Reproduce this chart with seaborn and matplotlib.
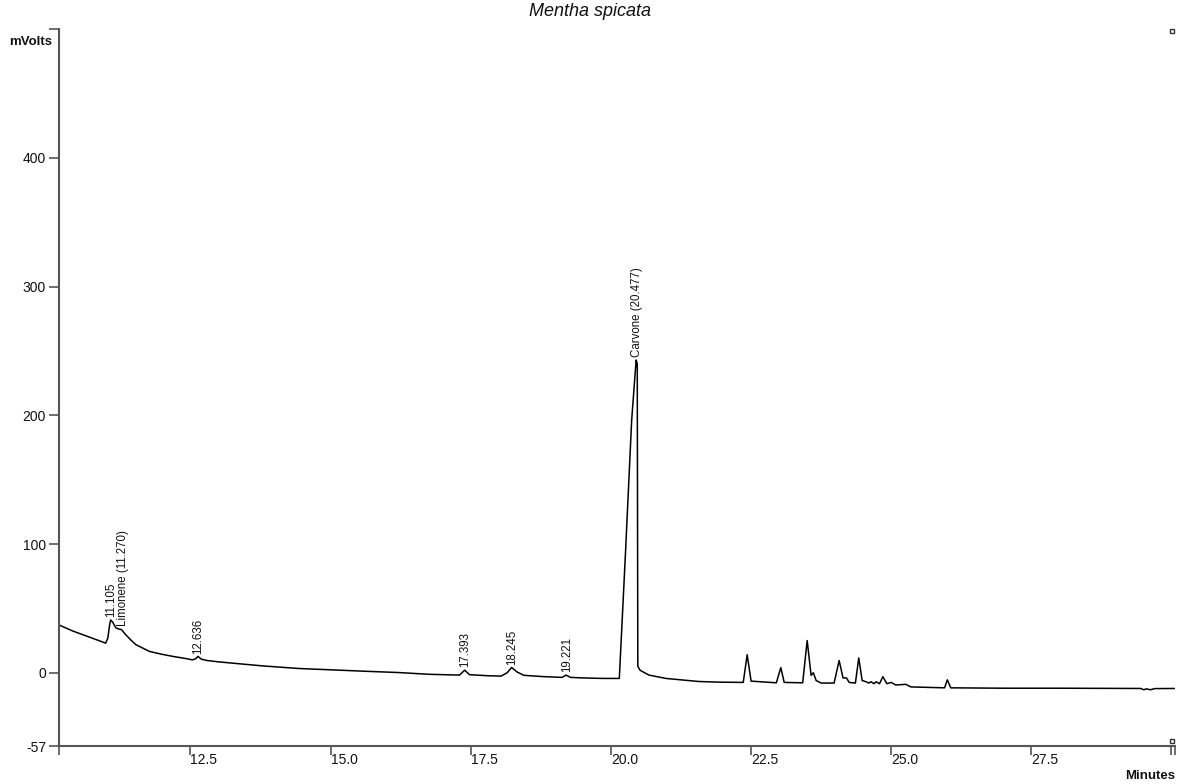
import matplotlib
matplotlib.use("Agg")
import matplotlib.pyplot as plt
import seaborn as sns
import pandas as pd

# ---- data ----
time_min = [10.15, 10.40, 10.65, 10.90, 10.99, 11.03, 11.06, 11.08, 11.12, 11.17, 11.22, 11.27,
            11.35, 11.45, 11.53, 11.77, 12.00, 12.19, 12.40, 12.54, 12.60, 12.636, 12.70, 12.80,
            13.00, 13.37, 13.80, 14.44, 15.00, 15.60, 16.20, 16.76, 17.30, 17.393, 17.48, 17.80,
            18.04, 18.15, 18.23, 18.33, 18.45, 18.80, 19.13, 19.20, 19.28, 19.50, 19.85, 20.15,
            20.26, 20.37, 20.45, 20.47, 20.48, 20.52, 20.60, 20.68, 20.98, 21.57, 21.94, 22.36,
            22.43, 22.50, 22.95, 23.03, 23.09, 23.42, 23.50, 23.57, 23.61, 23.66, 23.75, 23.98,
            24.07, 24.14, 24.20, 24.25, 24.36, 24.42, 24.48, 24.55, 24.60, 24.64, 24.69, 24.73,
            24.79, 24.85, 24.92, 25.00, 25.08, 25.26, 25.35, 25.95, 26.00, 26.06, 27.00, 28.00,
            29.45, 29.50, 29.55, 29.62, 29.70, 30.05]
signal_mv = [37.3, 32.5, 28.5, 24.5, 23.0, 27.0, 37.0, 41.0, 39.0, 35.0, 34.0, 33.6,
             29.5, 25.0, 21.8, 16.6, 14.3, 12.7, 11.2, 10.0, 11.0, 12.7, 10.5, 9.5,
             8.5, 7.0, 5.3, 3.3, 2.3, 1.2, 0.2, -1.2, -1.8, 2.0, -1.5, -2.3,
             -2.6, 0.0, 4.1, 0.5, -2.0, -3.0, -3.6, -1.8, -3.6, -4.0, -4.4, -4.4,
             93.0, 196.0, 243.0, 240.0, 5.0, 2.0, 0.0, -1.8, -4.4, -6.8, -7.3, -7.5,
             14.0, -6.5, -7.8, 4.0, -7.5, -7.8, 25.0, -2.0, 0.0, -6.0, -8.0, -8.0,
             9.5, -4.0, -4.0, -7.5, -8.0, 11.5, -6.0, -7.0, -8.0, -7.0, -8.5, -7.0,
             -8.5, -3.0, -8.5, -7.5, -9.5, -9.0, -11.0, -11.7, -5.5, -11.7, -12.0, -12.0,
             -12.2, -13.2, -12.5, -13.2, -12.3, -12.2]

peak_labels = ["11.105", "Limonene (11.270)", "12.636", "17.393", "18.245", "19.221", "Carvone (20.477)"]
peak_times = [11.085, 11.295, 12.636, 17.393, 18.245, 19.221, 20.460]
peak_heights = [41.0, 34.5, 12.7, 2.0, 4.1, -1.8, 243.0]

x_ticks = [12.5, 15.0, 17.5, 20.0, 22.5, 25.0, 27.5]
x_tick_labels = ["12.5", "15.0", "17.5", "20.0", "22.5", "25.0", "27.5"]
y_ticks = [-57, 0, 100, 200, 300, 400, 500]
y_tick_labels = ["-57", "0", "100", "200", "300", "400", ""]
x_range = (10.15, 30.06)
y_range = (-57, 500)

df = pd.DataFrame({"time": time_min, "mV": signal_mv})

sns.set_theme(style="white")
plt.rcParams["font.family"] = ["Liberation Sans", "DejaVu Sans"]

fig = plt.figure(figsize=(11.8, 7.84), dpi=100)
ax = fig.add_axes([0.0496, 0.0483, 0.9958 - 0.0496, 0.9628 - 0.0483])

sns.lineplot(data=df, x="time", y="mV", ax=ax, color="black", linewidth=1.1,
             sort=False, estimator=None)

for lab, t, h in zip(peak_labels, peak_times, peak_heights):
    ax.annotate(lab, xy=(t, h), xytext=(0, 2), textcoords="offset points",
                rotation=90, ha="center", va="bottom", fontsize=8.3, color="#111111")

ax.set_xlim(*x_range)
ax.set_ylim(*y_range)

spine_c = "#555555"
for s in ["top", "right"]:
    ax.spines[s].set_visible(False)
for s in ["left", "bottom"]:
    ax.spines[s].set_color(spine_c)
    ax.spines[s].set_linewidth(1.5)

ax.set_xticks([x_range[0]] + x_ticks + [29.985, x_range[1]])
ax.set_xticklabels([""] + x_tick_labels + ["", ""], ha="left")
ax.set_yticks(y_ticks)
ax.set_yticklabels(y_tick_labels)
ax.tick_params(axis="x", direction="out", length=6.5, width=1.2, color=spine_c,
               pad=-1.5, labelsize=10, labelcolor="#111111", bottom=True)
ax.tick_params(axis="y", direction="out", length=7, width=1.2, color=spine_c,
               pad=2, labelsize=10, labelcolor="#111111", left=True)
for lbl in ax.get_xticklabels():
    lbl.set_horizontalalignment("left")

ax.set_xlabel("")
ax.set_ylabel("")
ax.grid(False)

fig.text(52 / 1180, 1 - 42 / 784, "mVolts", ha="right", va="center", fontsize=9.5,
         fontweight="bold", color="#111111")
fig.text(1175 / 1180, 1 - 776 / 784, "Minutes", ha="right", va="center", fontsize=9.5,
         fontweight="bold", color="#111111")
fig.text(0.5, 1 - 12 / 784, "Mentha spicata", ha="center", va="center", fontsize=13,
         style="italic", color="#111111")

# end-of-run markers of the recorder
ax.plot([0.9975], [0.997], marker="s", markersize=3.5, markerfacecolor="white",
        markeredgecolor="#333333", markeredgewidth=1.0, transform=ax.transAxes, clip_on=False)
ax.plot([0.9975], [0.007], marker="s", markersize=3.5, markerfacecolor="white",
        markeredgecolor="#333333", markeredgewidth=1.0, transform=ax.transAxes, clip_on=False)

fig.savefig("out.png", dpi=100, facecolor="white")
